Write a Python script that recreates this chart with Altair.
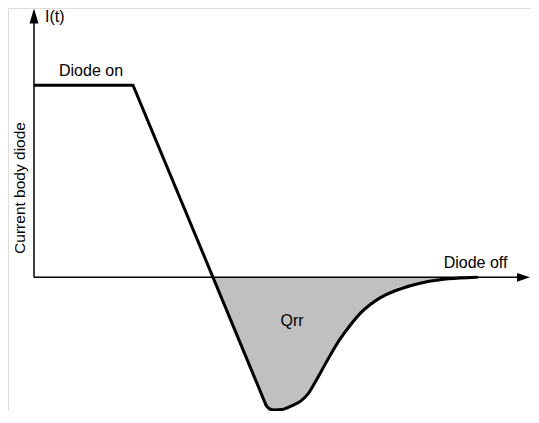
import altair as alt
import pandas as pd

# Piecewise waveform of the body-diode current (t in arbitrary time units, I normalised to on-state = 1)
ramp_t = [0.0, 0.99, 1.79, 2.32]
ramp_i = [1.0, 1.0, 0.0, -0.665]

rec_t = [2.32, 2.35, 2.40, 2.48, 2.58, 2.67, 2.74, 2.81, 2.93, 3.06, 3.16, 3.26, 3.46, 3.66, 3.86, 4.06, 4.26, 4.43]
rec_i = [-0.665, -0.683, -0.690, -0.688, -0.668, -0.643, -0.607, -0.547, -0.435, -0.322, -0.251, -0.189, -0.107, -0.061, -0.031, -0.013, -0.004, 0.0]

# Qrr shaded region: straight part (zero crossing -> start of recovery) + recovery part
tri_t = [1.79, 2.32]
tri_i = [0.0, -0.665]

# axes (arrows)
yaxis_t = [0.0, 0.0]
yaxis_i = [0.0, 1.329]
xaxis_t = [0.0, 4.86]
xaxis_i = [0.0, 0.0]
up_arrow_pos = (0.0, 1.360)
right_arrow_pos = (4.895, 0.0)

labels = ["I(t)", "Diode on", "Diode off", "Qrr"]
label_t = [0.11, 0.57, 4.415, 2.58]
label_i = [1.355, 1.049, 0.046, -0.251]
label_align = ["left", "center", "center", "center"]
label_base = ["middle", "alphabetic", "alphabetic", "alphabetic"]

ylabel = "Current body diode"
ylabel_t = -0.14
ylabel_i = 0.465

FONT = "Liberation Sans"

xs = alt.Scale(domain=[-0.26, 4.97], nice=False, zero=False)
ys = alt.Scale(domain=[-0.6957, 1.4015], nice=False, zero=False)


def X(f="t"):
    return alt.X(f"{f}:Q", scale=xs, axis=None)


def Y(f="i"):
    return alt.Y(f"{f}:Q", scale=ys, axis=None)


ramp_df = pd.DataFrame({"t": ramp_t, "i": ramp_i, "o": range(len(ramp_t))})
rec_df = pd.DataFrame({"t": rec_t, "i": rec_i, "o": range(len(rec_t)), "z": [0.0] * len(rec_t)})
tri_df = pd.DataFrame({"t": tri_t, "i": tri_i, "z": [0.0] * len(tri_t)})

GREY = "#c0c0c0"
area1 = alt.Chart(tri_df).mark_area(color=GREY, interpolate="linear", stroke=GREY, strokeWidth=0.5).encode(
    x=X(), y=Y(), y2=alt.Y2("z:Q")
)
area2 = alt.Chart(rec_df).mark_area(color=GREY, interpolate="monotone", stroke=GREY, strokeWidth=0.5).encode(
    x=X(), y=Y(), y2=alt.Y2("z:Q")
)

yaxis = alt.Chart(pd.DataFrame({"t": yaxis_t, "i": yaxis_i})).mark_line(
    color="black", strokeWidth=1.5
).encode(x=X(), y=Y())
xaxis = alt.Chart(pd.DataFrame({"t": xaxis_t, "i": xaxis_i})).mark_line(
    color="black", strokeWidth=1.5
).encode(x=X(), y=Y())

up_arrow = alt.Chart(pd.DataFrame({"t": [up_arrow_pos[0]], "i": [up_arrow_pos[1]]})).mark_point(
    shape="M0,-1L0.6,1L-0.6,1Z", filled=True, color="black", opacity=1, size=225, strokeWidth=0
).encode(x=X(), y=Y())
right_arrow = alt.Chart(pd.DataFrame({"t": [right_arrow_pos[0]], "i": [right_arrow_pos[1]]})).mark_point(
    shape="M1,0L-1,0.68L-1,-0.68Z", filled=True, color="black", opacity=1, size=169, strokeWidth=0
).encode(x=X(), y=Y())

ramp = alt.Chart(ramp_df).mark_line(
    color="black", strokeWidth=3, strokeJoin="miter", strokeCap="butt"
).encode(x=X(), y=Y(), order="o:Q")
rec = alt.Chart(rec_df).mark_line(
    color="black", strokeWidth=3, interpolate="monotone", strokeCap="round"
).encode(x=X(), y=Y(), order="o:Q")

lab_df = pd.DataFrame({"t": label_t, "i": label_i, "txt": labels})
texts = []
for k in range(len(labels)):
    texts.append(
        alt.Chart(lab_df.iloc[[k]]).mark_text(
            font=FONT, fontSize=16, color="black",
            align=label_align[k], baseline=label_base[k]
        ).encode(x=X(), y=Y(), text="txt:N")
    )

ytext = alt.Chart(pd.DataFrame({"t": [ylabel_t], "i": [ylabel_i], "txt": [ylabel]})).mark_text(
    font=FONT, fontSize=15.5, color="black", angle=270, align="center", baseline="middle"
).encode(x=X(), y=Y(), text="txt:N")

chart = alt.layer(
    area1, area2, yaxis, xaxis, up_arrow, right_arrow, ramp, rec, *texts, ytext
).properties(
    width=523, height=403, padding=0, autosize=alt.AutoSizeParams(type="none")
).configure_view(stroke=None).configure(background="white")

chart.save("out.html", embed_options={"renderer": "svg", "actions": False})
